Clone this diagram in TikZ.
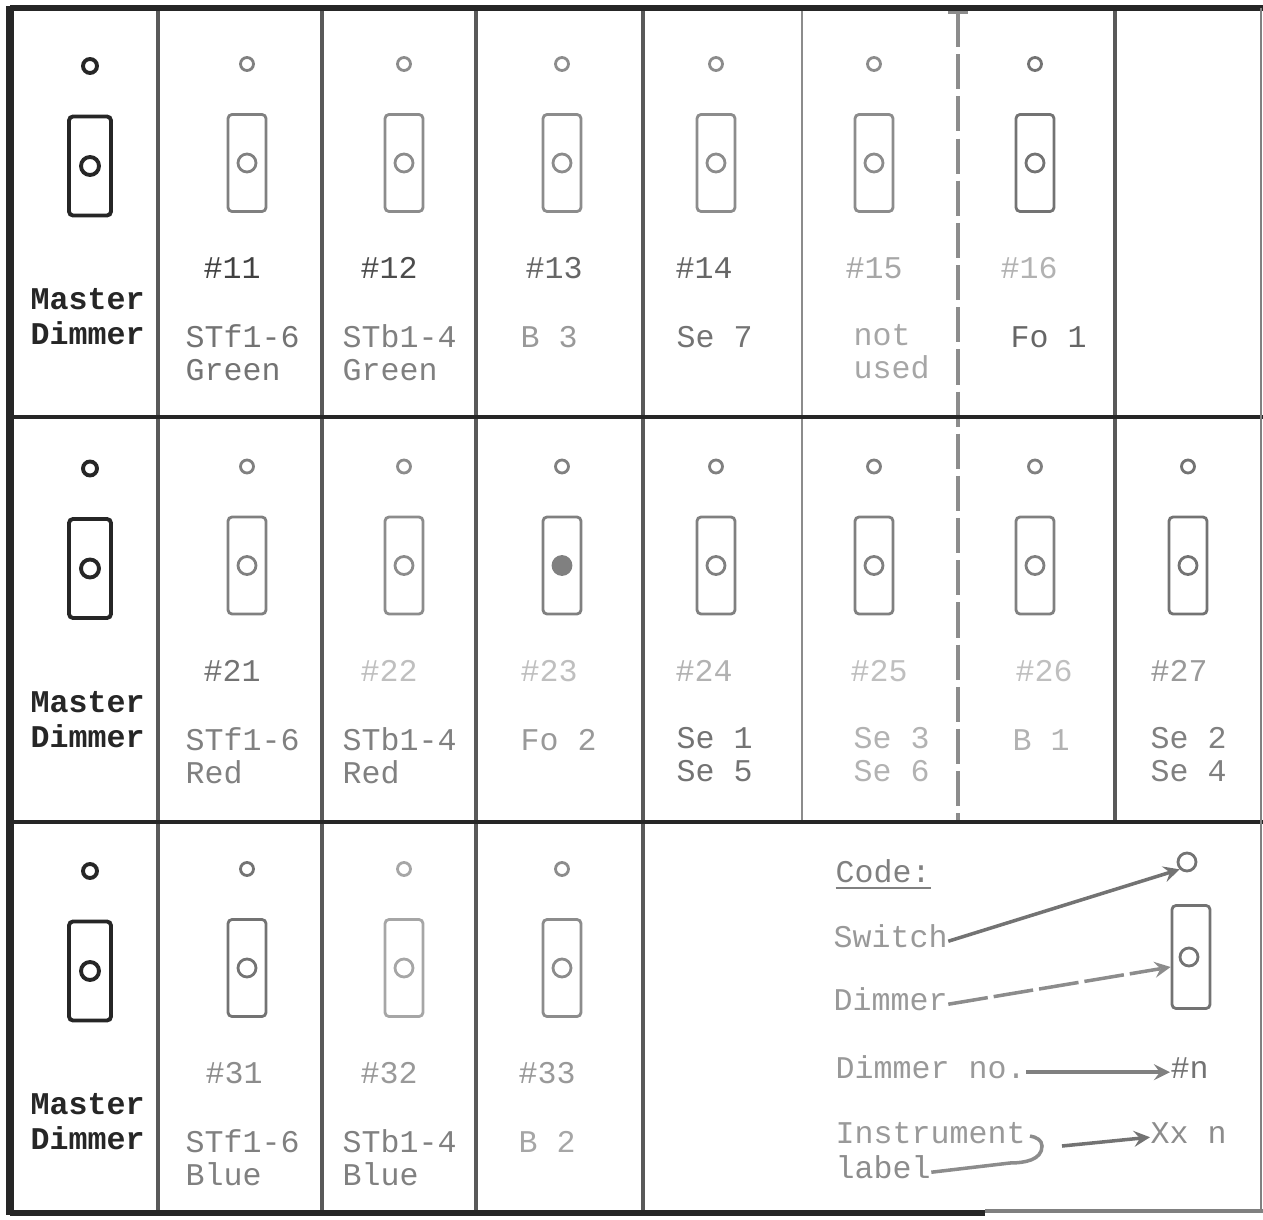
\documentclass[tikz,border=0pt]{standalone}
\usepackage{fontspec}
\newfontfamily\tw{Liberation Mono}
\colorlet{ink}{black!85}
\tikzset{
	sw/.style={circle,draw,line width=.8pt,inner sep=0pt,minimum size=1.3mm},
	knob/.style={circle,draw,line width=.8pt,inner sep=0pt,minimum size=1.8mm},
	dimbox/.style={draw,line width=.8pt,rounded corners=.4mm,inner sep=0pt,minimum width=3.8mm,minimum height=9.7mm},
	txt/.style={anchor=north west,inner sep=0pt,align=left,font=\tw\fontsize{9}{9.4}\selectfont,execute at begin node=\strut},
	mtxt/.style={txt,font=\tw\bfseries\fontsize{9}{10}\selectfont},
	grid/.style={line width=1pt,black!65}
}
\begin{document}
\begin{tikzpicture}[x=.1mm,y=-.1mm]
	\useasboundingbox(0,0)rectangle(1263,1220);
	\draw[grid](158,8)--(158,1214) (322,8)--(322,1214) (476,8)--(476,1214) (643,8)--(643,1214) (1115,8)--(1115,822);
	\draw[grid,black!45,line width=.8pt](802,8)--(802,822);
	\draw[grid,black!45,dash pattern=on 10pt off 2pt](958,12)--(958,822) (948,12)--(968,12);
	\draw[grid,ink,line width=1.2pt](10,417)--(1263,417) (10,822)--(1263,822);
	\draw[ink,line width=1.6pt](10,8)--(1263,8);
	\draw[ink,line width=2pt](10,6)--(10,1215);
	\draw[ink,line width=1.6pt](10,1213)--(985,1213);
	\draw[black!50,line width=1.4pt](985,1211)--(1263,1211);
	\draw[black!50,line width=.8pt](1261,8)--(1261,1213);
	\foreach \r in {1,2,3}{
		\pgfmathsetmacro\dy{(\r-1)*402.5}
		\node[sw,ink,line width=1.1pt,minimum size=1.4mm](ms\r)at(90,66+\dy){};
		\node[dimbox,ink,line width=1.1pt,minimum width=4.2mm,minimum height=9.9mm](md\r)at(90,166+\dy){};
		\node[knob,ink,line width=1.1pt](mk\r)at(90,166+\dy){};
		\node[mtxt,ink](mt\r)at(30,288+\dy){Master\\Dimmer};
	}
	\foreach \r/\c/\x/\tx/\nx/\lab/\sc/\nc/\lc/\f in {
		1/1/247/185/203/{STf1-6\\Green}/50/75/55/none,
		1/2/404/342/360/{STb1-4\\Green}/45/70/50/none,
		1/3/562/520/525/{B 3}/45/60/40/none,
		1/4/716/676/675/{Se 7}/45/60/55/none,
		1/5/874/853/845/{not\\used}/45/35/35/none,
		1/6/1035/1010/1000/{Fo 1}/55/30/60/none,
		2/1/247/185/203/{STf1-6\\Red}/50/55/50/none,
		2/2/404/342/360/{STb1-4\\Red}/45/25/50/none,
		2/3/562/520/520/{Fo 2}/50/25/40/black!50,
		2/4/716/676/675/{Se 1\\Se 5}/50/30/55/none,
		2/5/874/853/850/{Se 3\\Se 6}/50/25/30/none,
		2/6/1035/1012/1015/{B 1}/50/25/30/none,
		2/7/1188/1150/1150/{Se 2\\Se 4}/55/40/50/none,
		3/1/247/185/205/{STf1-6\\Blue}/55/45/50/none,
		3/2/404/342/360/{STb1-4\\Blue}/35/40/50/none,
		3/3/562/518/518/{B 2}/45/40/35/none}{
		\pgfmathsetmacro\dy{(\r-1)*402.5}
		\node[sw,black!\sc](s\r\c)at(\x,64+\dy){};
		\node[dimbox,black!\sc](d\r\c)at(\x,163+\dy){};
		\node[knob,black!\sc,fill=\f](k\r\c)at(\x,163+\dy){};
		\node[txt,black!\nc](n\r\c)at(\nx,255+\dy){\#\r\c};
		\node[txt,black!\lc](l\r\c)at(\tx,324+\dy){\lab};
	}
	\node[txt,black!50](code)at(835,859){\underline{Code:}};
	\node[txt,black!40](swl)at(833,924){Switch};
	\node[txt,black!40](diml)at(833,987){Dimmer};
	\node[txt,black!40](dnol)at(835,1055){Dimmer no.};
	\node[txt,black!40](insl)at(835,1120){Instrument};
	\node[txt,black!45](labl)at(835,1155){label};
	\node[sw,black!55,minimum size=1.8mm](ksw)at(1187,862){};
	\node[dimbox,black!55,minimum height=10.3mm](kdim)at(1191,957){};
	\node[knob,black!55](kk)at(1189,957){};
	\node[txt,black!55](kn)at(1170,1055){\#n};
	\node[txt,black!45](kx)at(1150,1120){Xx n};
	\draw[black!55,line width=1pt,-stealth](swl.east)--(ksw.south west);
	\draw[black!45,line width=1pt,-stealth,dash pattern=on 4mm off .6mm](diml.east)--([yshift=-1mm]kdim.west);
	\draw[black!50,line width=1pt,-stealth](dnol.east)--(kn.west);
	\draw[black!45,line width=1pt](labl.east)--(1010,1163)to[out=0,in=-90](1042,1146)to[out=90,in=-10](1030,1136);
	\coordinate(brc)at(1062,1146);
	\draw[black!55,line width=1pt,-stealth](brc)--(kx.west);
\end{tikzpicture}
\end{document}
